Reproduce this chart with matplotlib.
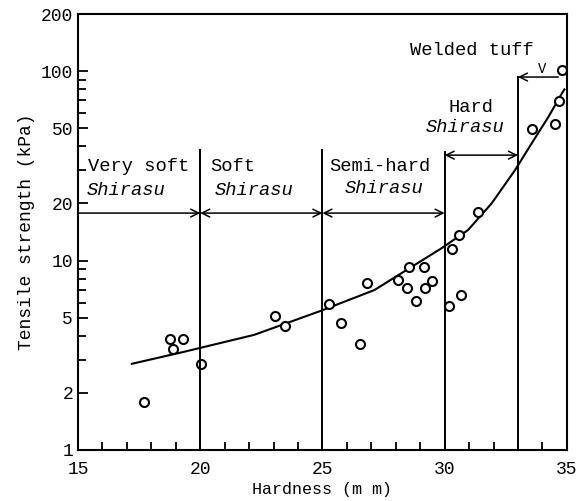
import numpy as np
import matplotlib
matplotlib.use("Agg")
import matplotlib.pyplot as plt
from matplotlib.ticker import FixedLocator, NullFormatter

plt.rcParams['font.family'] = ['Liberation Mono', 'DejaVu Sans']

# measured points (hardness mm, tensile strength kPa)
hardness = [17.7, 18.75, 19.3, 18.9, 20.05, 23.05, 23.47, 25.25, 25.76, 26.54,
            26.81, 28.11, 28.54, 28.47, 28.83, 29.16, 29.21, 29.5, 30.17, 30.65,
            30.32, 30.59, 31.37, 33.56, 34.52, 34.7, 34.82]
strength = [1.8, 3.85, 3.84, 3.41, 2.83, 5.1, 4.51, 5.89, 4.66, 3.61,
            7.58, 7.89, 9.27, 7.13, 6.11, 9.2, 7.13, 7.79, 5.77, 6.6,
            11.5, 13.6, 18.1, 49.6, 52.5, 69.8, 101]

# fitted curve
curve_x = [17.2, 19.26, 22.2, 24.94, 27.13, 28.77, 29.87, 30.96, 31.92,
           32.88, 33.56, 34.25, 34.8, 34.9]
curve_y = [2.85, 3.28, 4.05, 5.43, 6.99, 9.47, 11.6, 14.5, 20.0,
           30.0, 41.5, 57.4, 76.3, 80]

# class boundaries
bounds = [20, 25, 30, 33]
bound_tops = [38.3, 38.3, 37.4, 93]

fig = plt.figure(figsize=(5.88, 5.01), dpi=100)
ax = fig.add_axes([0.1327, 0.1018, 0.8313, 0.8702])
ax.set_yscale('log')
ax.set_xlim(15, 35)
ax.set_ylim(1, 200)

ax.plot(curve_x, curve_y, color='black', lw=1.5)
ax.plot(hardness, strength, 'o', mfc='white', mec='black', ms=6.5, mew=1.5)

for b, t in zip(bounds, bound_tops):
    ax.plot([b, b], [1, t], color='black', lw=1.4)

arr_y = 17.8
arrow = dict(arrowstyle='->', color='black', lw=1.1, shrinkA=0, shrinkB=0,
             mutation_scale=14)
darrow = dict(arrowstyle='<->', color='black', lw=1.1, shrinkA=0, shrinkB=0,
              mutation_scale=14)
ax.annotate('', xy=(20, arr_y), xytext=(15, arr_y), arrowprops=arrow)
ax.annotate('', xy=(20, arr_y), xytext=(25, arr_y), arrowprops=darrow)
ax.annotate('', xy=(25, arr_y), xytext=(30, arr_y), arrowprops=darrow)
ax.annotate('', xy=(30, 36), xytext=(33, 36), arrowprops=darrow)
ax.annotate('', xy=(33, 93), xytext=(34.65, 93), arrowprops=arrow)

fs = 13.5
ax.text(15.4, 31.2, 'Very soft', fontsize=fs, va='center')
ax.text(15.35, 23.5, 'Shirasu', fontsize=fs, style='italic', va='center')
ax.text(20.4, 31.2, 'Soft', fontsize=fs, va='center')
ax.text(20.6, 23.5, 'Shirasu', fontsize=fs, style='italic', va='center')
ax.text(25.27, 31.5, 'Semi-hard', fontsize=fs, va='center')
ax.text(25.9, 24, 'Shirasu', fontsize=fs, style='italic', va='center')
ax.text(32.0, 63.9, 'Hard', fontsize=fs, va='center', ha='right')
ax.text(32.45, 50.6, 'Shirasu', fontsize=fs, style='italic', va='center', ha='right')
ax.text(33.64, 129, 'Welded tuff', fontsize=fs, va='center', ha='right')
ax.text(34.0, 102, 'V', fontsize=10, va='center', ha='center')

ax.yaxis.set_major_locator(FixedLocator([1, 2, 5, 10, 20, 50, 100, 200]))
ax.yaxis.set_minor_locator(FixedLocator([3, 4, 6, 7, 8, 9, 30, 40, 60, 70, 80, 90]))
ax.set_yticklabels(['1', '2', '5', '10', '20', '50', '100', '200'])
ax.yaxis.set_minor_formatter(NullFormatter())
ax.xaxis.set_major_locator(FixedLocator([15, 20, 25, 30, 35]))
ax.xaxis.set_minor_locator(FixedLocator([i for i in range(16, 35) if i % 5]))

ax.tick_params(which='both', direction='in', labelsize=13, width=1.3)
ax.tick_params(which='major', length=7)
ax.tick_params(which='minor', length=6)
ax.tick_params(axis='x', pad=8)
for s in ax.spines.values():
    s.set_linewidth(1.5)

ax.set_xlabel('Hardness (m m)', fontsize=12, labelpad=3)
ax.set_ylabel('Tensile strength (kPa)', fontsize=13, labelpad=4)

fig.savefig('out.png', dpi=100)
